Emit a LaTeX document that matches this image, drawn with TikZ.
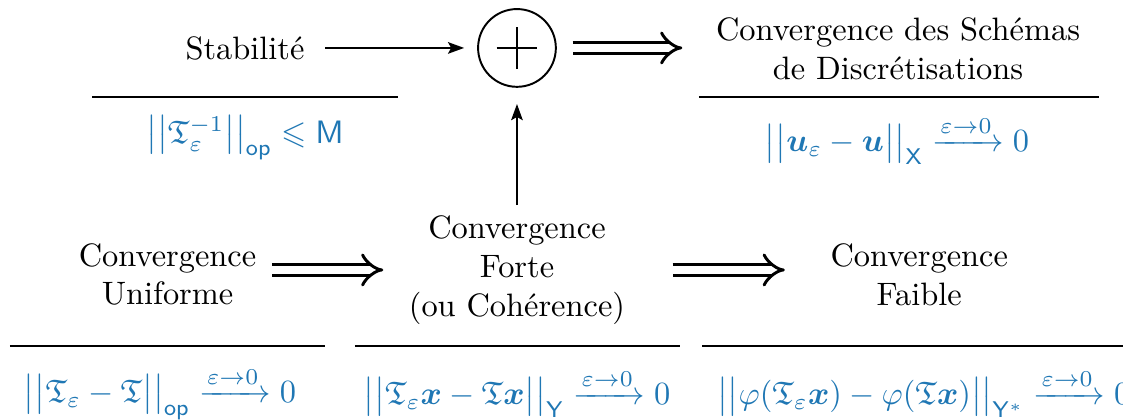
\documentclass[tikz,border=0pt]{standalone}
\usepackage{amsmath,amssymb}
\usepackage{tikz}
\usetikzlibrary{arrows.meta}
\definecolor{bleu}{RGB}{31,119,180}

\tikzset{
  bloc/.style={align=center, inner sep=2pt},
  formule/.style={text=bleu, inner sep=2pt},
  regle/.style={line width=0.6pt},
  fleche/.style={line width=0.5pt, -{Stealth[length=5pt, width=3.6pt, inset=1pt]}},
  implique/.style={double, line width=0.9pt, double distance=2.6pt, -{Implies}},
}

\begin{document}
\begin{tikzpicture}
  \useasboundingbox (0,0) rectangle (12.18,4.555);

  % ligne du haut
  \node[bloc] (stab) at (2.657,4.035) {Stabilit\'e};
  \node[draw, circle, line width=0.6pt, minimum size=24pt, inner sep=0pt] (plus) at (5.607,4.035) {};
  \draw[line width=0.8pt] ([xshift=-6.3pt]plus.center) -- ([xshift=6.3pt]plus.center);
  \draw[line width=0.8pt] ([yshift=-6.5pt]plus.center) -- ([yshift=6.5pt]plus.center);
  \node[bloc] (schemas) at (9.74,4.024) {Convergence des Sch\'emas\\de Discr\'etisations};

  \draw[regle] (0.998,3.503) -- (4.317,3.503);
  \draw[regle] (7.581,3.503) -- (11.92,3.503);

  \node[formule] (fstab) at (2.657,3.059)
    {$\big|\big|\mathfrak{T}_{\varepsilon}^{-1}\big|\big|_{\mathsf{op}} \leqslant \mathsf{M}$};
  \node[formule] (fschemas) at (9.729,3.037)
    {$\big|\big|\boldsymbol{u}_{\varepsilon}-\boldsymbol{u}\big|\big|_{\mathsf{X}} \xrightarrow{\varepsilon\to0} 0$};

  % ligne du bas
  \node[bloc] (unif) at (1.817,1.578) {Convergence\\Uniforme};
  \node[bloc] (forte) at (5.607,1.627) {Convergence\\Forte\\(ou Coh\'erence)};
  \node[bloc] (faible) at (9.97,1.578) {Convergence\\Faible};

  \draw[regle] (0.108,0.803) -- (3.525,0.803);
  \draw[regle] (3.85,0.803) -- (7.375,0.803);
  \draw[regle] (7.614,0.803) -- (12.18,0.803);

  \node[formule] (funif) at (1.735,0.293)
    {$\big|\big|\mathfrak{T}_{\varepsilon}-\mathfrak{T}\big|\big|_{\mathsf{op}} \xrightarrow{\varepsilon\to0} 0$};
  \node[formule] (fforte) at (5.607,0.293)
    {$\big|\big|\mathfrak{T}_{\varepsilon}\boldsymbol{x}-\mathfrak{T}\boldsymbol{x}\big|\big|_{\mathsf{Y}} \xrightarrow{\varepsilon\to0} 0$};
  \node[formule, anchor=west] (ffaible) at (7.70,0.293)
    {$\big|\big|\varphi(\mathfrak{T}_{\varepsilon}\boldsymbol{x})-\varphi(\mathfrak{T}\boldsymbol{x})\big|\big|_{\mathsf{Y}^*} \xrightarrow{\varepsilon\to0} 0$};

  % fleches
  \draw[fleche, shorten <=4.2pt, shorten >=4pt] (stab.east) -- (plus.west);
  \draw[implique, shorten <=4.9pt, shorten >=8.2pt] (plus.east) -- (schemas.west |- plus);
  \draw[fleche, shorten <=1pt, shorten >=5pt] (forte.north) -- (plus.south);
  \draw[implique, shorten <=2.6pt, shorten >=5.7pt] (unif.east |- forte) -- (forte.west);
  \draw[implique, shorten <=12.5pt, shorten >=11.9pt] (forte.east) -- (faible.west |- forte);
\end{tikzpicture}
\end{document}
